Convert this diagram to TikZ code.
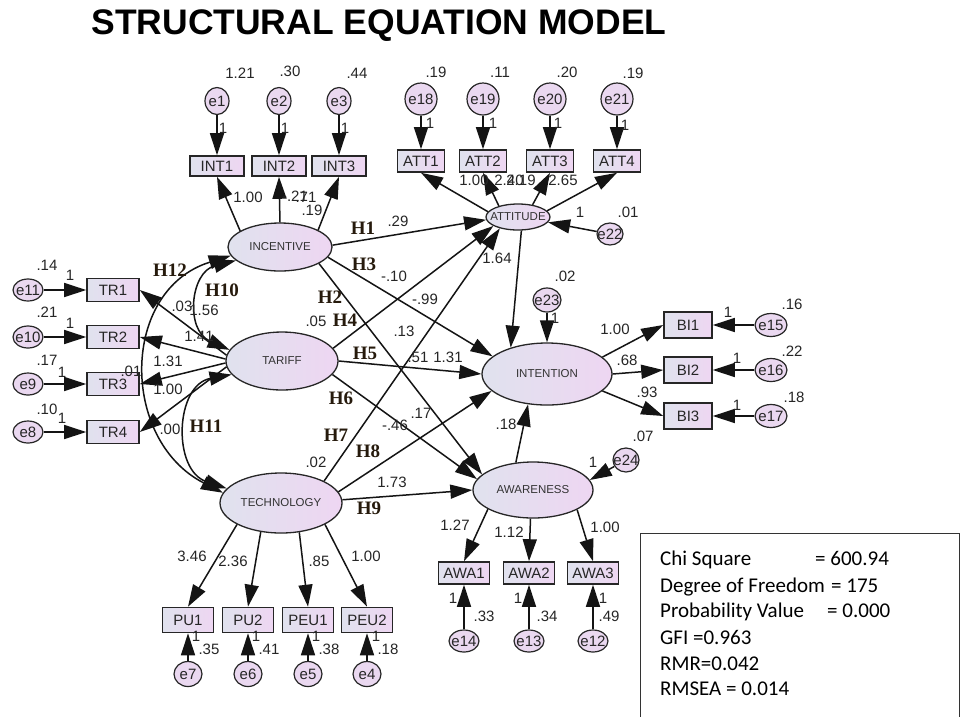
\documentclass[tikz,border=0pt]{standalone}
\usepackage{fontspec}
\setmainfont{Liberation Sans}
\newfontfamily\hypfont{Liberation Serif}
\newfontfamily\boxfont{Carlito}
\usetikzlibrary{arrows.meta,shapes.geometric}

\definecolor{latL}{RGB}{224,226,238}
\definecolor{latR}{RGB}{238,214,242}
\definecolor{errC}{RGB}{234,216,240}
\definecolor{hypC}{RGB}{38,26,12}
\definecolor{lineC}{RGB}{20,20,20}

\newcommand\zw[1]{\makebox[0pt]{#1}}

\tikzset{
  lat/.style 2 args={ellipse, draw=black!85, line width=1.3pt, left color=latL, right color=latR,
    minimum width=#1, minimum height=#2, inner sep=0pt, font=\fontsize{11.5}{12}\selectfont, text=black!80},
  obs/.style 2 args={rectangle, draw=black!85, line width=1.6pt, left color=latL, right color=latR,
    minimum width=#1, minimum height=#2, inner sep=0pt, font=\fontsize{15}{16}\selectfont, text=black!85},
  err/.style 2 args={ellipse, draw=black!85, line width=1.2pt, fill=errC,
    minimum width=#1, minimum height=#2, inner sep=0pt, font=\fontsize{15}{15}\selectfont, text=black!85},
  num/.style={inner sep=0pt, font=\fontsize{15}{15}\selectfont, text=black!85},
  hyp/.style={inner sep=0pt, font=\hypfont\bfseries\fontsize{19}{19}\selectfont, text=hypC},
  fitt/.style={inner sep=0pt, anchor=base west, font=\boxfont\fontsize{21}{22}\selectfont, text=black},
  arr/.style={draw=lineC, -{Triangle[length=22pt,width=14pt]}, line width=1.5pt},
  cov/.style={draw=lineC, {Triangle[length=22pt,width=14pt]}-{Triangle[length=22pt,width=14pt]}, line width=1.5pt},
}

\begin{document}
\begin{tikzpicture}[x=1pt,y=-1pt]
\useasboundingbox (0,0) rectangle (961,716);
\fill[white] (0,0) rectangle (961,716);

% title
\node[anchor=base, inner sep=0pt, font=\bfseries\fontsize{35.5}{38}\selectfont] (title) at (379,34) {STRUCTURAL EQUATION MODEL};

% latent variables
\node[lat={104}{48}] (INC) at (280,247) {INCENTIVE};
\node[lat={112}{58}] (TAR) at (282,361) {TARIFF};
\node[lat={122}{60}] (TEC) at (281,503) {TECHNOLOGY};
\node[lat={64}{26}] (ATT) at (518,217) {\zw{ATTITUDE}};
\node[lat={130}{62}] (INTN) at (547,374) {INTENTION};
\node[lat={120}{56}] (AWR) at (533,490) {AWARENESS};

% observed
\node[obs={54}{20}] (INT1) at (217,166) {INT1};
\node[obs={54}{20}] (INT2) at (279,166) {INT2};
\node[obs={54}{20}] (INT3) at (339,166) {INT3};
\node[obs={47}{22}] (ATT1) at (421,161) {ATT1};
\node[obs={47}{22}] (ATT2) at (483,161) {ATT2};
\node[obs={47}{22}] (ATT3) at (550,161) {ATT3};
\node[obs={47}{22}] (ATT4) at (617,161) {ATT4};
\node[obs={48}{26}] (BI1) at (688,325) {BI1};
\node[obs={48}{26}] (BI2) at (688,370) {BI2};
\node[obs={48}{26}] (BI3) at (688,416) {BI3};
\node[obs={52}{23}] (TR1) at (113,290) {TR1};
\node[obs={52}{23}] (TR2) at (113,337) {TR2};
\node[obs={52}{23}] (TR3) at (113,384) {TR3};
\node[obs={52}{23}] (TR4) at (113,432) {TR4};
\node[obs={51}{22}] (AWA1) at (464,573) {AWA1};
\node[obs={51}{22}] (AWA2) at (529,573) {AWA2};
\node[obs={51}{22}] (AWA3) at (593,573) {AWA3};
\node[obs={51}{25}] (PU1) at (188,620) {PU1};
\node[obs={51}{25}] (PU2) at (248,620) {PU2};
\node[obs={51}{25}] (PEU1) at (308,620) {PEU1};
\node[obs={51}{25}] (PEU2) at (367,620) {PEU2};

% errors
\node[err={24}{27}] (e1) at (217,101) {\zw{e1}};
\node[err={24}{27}] (e2) at (279,101) {\zw{e2}};
\node[err={24}{27}] (e3) at (339,101) {\zw{e3}};
\node[err={32}{32}] (e18) at (421,99) {\zw{e18}};
\node[err={32}{32}] (e19) at (483,99) {\zw{e19}};
\node[err={32}{32}] (e20) at (550,99) {\zw{e20}};
\node[err={32}{32}] (e21) at (617,99) {\zw{e21}};
\node[err={26}{22}] (e22) at (610,234) {\zw{e22}};
\node[err={28}{24}] (e23) at (547,300) {\zw{e23}};
\node[err={26}{24}] (e24) at (626,460) {\zw{e24}};
\node[err={32}{23}] (e15) at (771,325) {\zw{e15}};
\node[err={32}{23}] (e16) at (771,370) {\zw{e16}};
\node[err={32}{23}] (e17) at (771,416) {\zw{e17}};
\node[err={30}{22}] (e11) at (28,290) {\zw{e11}};
\node[err={30}{22}] (e10) at (28,337) {\zw{e10}};
\node[err={30}{22}] (e9) at (28,384) {\zw{e9}};
\node[err={30}{22}] (e8) at (28,432) {\zw{e8}};
\node[err={30}{22}] (e14) at (464,641) {\zw{e14}};
\node[err={30}{22}] (e13) at (529,641) {\zw{e13}};
\node[err={30}{22}] (e12) at (593,641) {\zw{e12}};
\node[err={28}{25}] (e7) at (188,674) {\zw{e7}};
\node[err={28}{25}] (e6) at (248,674) {\zw{e6}};
\node[err={28}{25}] (e5) at (308,674) {\zw{e5}};
\node[err={28}{25}] (e4) at (367,674) {\zw{e4}};

% error arrows
\foreach \a/\b in {e1/INT1,e2/INT2,e3/INT3,e18/ATT1,e19/ATT2,e20/ATT3,e21/ATT4,
  e15/BI1,e16/BI2,e17/BI3,e11/TR1,e10/TR2,e9/TR3,e8/TR4,e14/AWA1,e13/AWA2,e12/AWA3,
  e7/PU1,e6/PU2,e5/PEU1,e4/PEU2,e23/INTN}
  \draw[arr] (\a) -- (\b);
\draw[arr] (e22) -- (ATT.350);
\draw[arr] (e24) -- (AWR.10);

% measurement paths
\draw[arr] (INC.158) -- (INT1.south);
\draw[arr] (INC.90) -- (INT2.south);
\draw[arr] (INC.24) -- (INT3.south);
\draw[arr] (ATT.170) -- (ATT1.south);
\draw[arr] (ATT.150) -- (ATT2.south);
\draw[arr] (ATT.40) -- (ATT3.south);
\draw[arr] (ATT.12) -- (ATT4.south);
\draw[arr] (INTN.17) -- (BI1.west);
\draw[arr] (INTN.0) -- (BI2.west);
\draw[arr] (INTN.343) -- (BI3.west);
\draw[arr] (AWR.203) -- (AWA1.north);
\draw[arr] (AWR.265) -- (AWA2.north);
\draw[arr] (AWR.336) -- (AWA3.north);
\draw[arr] (TEC.206) -- (PU1.north);
\draw[arr] (TEC.235) -- (PU2.north);
\draw[arr] (TEC.302) -- (PEU1.north);
\draw[arr] (TEC.334) -- (PEU2.north);
\draw[arr] (TAR.174) -- (TR1.east);
\draw[arr] (TAR.178) -- (TR2.east);
\draw[arr] (TAR.182) -- (TR3.east);
\draw[arr] (TAR.186) -- (TR4.east);

% structural paths
\draw[arr] (INC.2) -- (ATT.185);
\draw[arr] (INC.348) -- (INTN.162);
\draw[arr] (INC.337) -- (AWR.163);
\draw[arr] (TAR.14) -- (ATT.200);
\draw[arr] (TAR.0) -- (INTN.180);
\draw[arr] (TAR.345) -- (AWR.169);
\draw[arr] (TEC.27) -- (ATT.212);
\draw[arr] (TEC.11) -- (INTN.197);
\draw[arr] (TEC.3) -- (AWR.180);
\draw[arr] (ATT.284) -- (INTN.144);
\draw[arr] (AWR.122) -- (INTN.238);

% covariances
\draw[cov] (INC.190) .. controls (120,290) and (120,440) .. (TEC.170);
\draw[cov] (INC.197) .. controls (190,272) and (185,330) .. (TAR.168);
\draw[cov] (TAR.195) .. controls (175,385) and (172,470) .. (TEC.165);

% variances
\node[num] (v1) at (240,73) {1.21};
\node[num] (v2) at (290,71) {.30};
\node[num] (v3) at (357,73) {.44};
\node[num] (v18) at (436,72) {.19};
\node[num] (v19) at (500,72) {.11};
\node[num] (v20) at (567,72) {.20};
\node[num] (v21) at (633,73) {.19};
\node[num] (v22) at (628,212) {.01};
\node[num] (v23) at (565,276) {.02};
\node[num] (v24) at (643,436) {.07};
\node[num] (v15) at (792,304) {.16};
\node[num] (v16) at (792,351) {.22};
\node[num] (v17) at (794,397) {.18};
\node[num] (v11) at (47,265) {.14};
\node[num] (v10) at (47,312) {.21};
\node[num] (v9) at (47,360) {.17};
\node[num] (v8) at (47,409) {.10};
\node[num] (v14) at (484,616) {.33};
\node[num] (v13) at (547,616) {.34};
\node[num] (v12) at (609,616) {.49};
\node[num] (v7) at (209,649) {.35};
\node[num] (v6) at (269,649) {.41};
\node[num] (v5) at (329,649) {.38};
\node[num] (v4) at (388,649) {.18};

% fixed 1 labels
\node[num] (o1) at (223,128) {1};
\node[num] (o2) at (285,128) {1};
\node[num] (o3) at (345,128) {1};
\node[num] (o18) at (430,123) {1};
\node[num] (o19) at (493,123) {1};
\node[num] (o20) at (558,123) {1};
\node[num] (o21) at (625,125) {1};
\node[num] (o22) at (580,212) {1};
\node[num] (o23) at (555,318) {1};
\node[num] (o24) at (593,462) {1};
\node[num] (o15) at (728,312) {1};
\node[num] (o16) at (737,358) {1};
\node[num] (o17) at (737,405) {1};
\node[num] (o11) at (70,275) {1};
\node[num] (o10) at (70,323) {1};
\node[num] (o9) at (62,372) {1};
\node[num] (o8) at (62,418) {1};
\node[num] (o14) at (453,598) {1};
\node[num] (o13) at (518,598) {1};
\node[num] (o12) at (603,598) {1};
\node[num] (o7) at (196,636) {1};
\node[num] (o6) at (256,636) {1};
\node[num] (o5) at (316,636) {1};
\node[num] (o4) at (376,636) {1};

% loadings
\node[num] (l1) at (248,197) {1.00};
\node[num] (l2) at (295,196) {-.21};
\node[num] (l3) at (306,197) {.71};
\node[num] (l4) at (312,210) {.19};
\node[num] (l5) at (474,180) {1.00};
\node[num] (l6) at (509,180) {2.40};
\node[num] (l7) at (521,180) {2.19};
\node[num] (l8) at (563,180) {2.65};
\node[num] (l9) at (615,329) {1.00};
\node[num] (l10) at (627,360) {.68};
\node[num] (l11) at (647,392) {.93};
\node[num] (l12) at (455,525) {1.27};
\node[num] (l13) at (509,532) {1.12};
\node[num] (l14) at (605,527) {1.00};
\node[num] (l15) at (192,556) {3.46};
\node[num] (l16) at (233,561) {2.36};
\node[num] (l17) at (319,561) {.85};
\node[num] (l18) at (366,556) {1.00};
\node[num] (l19) at (182,306) {.03};
\node[num] (l20) at (204,310) {1.56};
\node[num] (l21) at (199,336) {1.41};
\node[num] (l22) at (168,361) {1.31};
\node[num] (l23) at (131,371) {.01};
\node[num] (l24) at (168,389) {1.00};
\node[num] (l25) at (170,429) {.00};

% structural coefficients
\node[num] (s1) at (398,221) {.29};
\node[num] (s2) at (394,276) {-.10};
\node[num] (s3) at (425,299) {-.99};
\node[num] (s4) at (497,258) {1.64};
\node[num] (s5) at (316,321) {.05};
\node[num] (s6) at (404,331) {.13};
\node[num] (s7) at (418,357) {.51};
\node[num] (s8) at (448,357) {1.31};
\node[num] (s9) at (395,425) {-.46};
\node[num] (s10) at (421,413) {.17};
\node[num] (s11) at (316,462) {.02};
\node[num] (s12) at (392,482) {1.73};
\node[num] (s13) at (506,424) {.18};

% hypotheses
\node[hyp] (H1) at (363,228) {H1};
\node[hyp] (H2) at (330,297) {H2};
\node[hyp] (H3) at (364,264) {H3};
\node[hyp] (H4) at (345,320) {H4};
\node[hyp] (H5) at (365,353) {H5};
\node[hyp] (H6) at (341,398) {H6};
\node[hyp] (H7) at (336,435) {H7};
\node[hyp] (H8) at (368,451) {H8};
\node[hyp] (H9) at (369,508) {H9};
\node[hyp] (H10) at (222,290) {H10};
\node[hyp] (H11) at (206,426) {H11};
\node[hyp] (H12) at (170,270) {H12};

% fit box
\draw[black!80, line width=1pt] (640,720) -- (640,533) -- (959,533) -- (959,720);
\node[fitt] (f1) at (660,565) {Chi Square};
\node[fitt] (f1v) at (815,565) {= 600.94};
\node[fitt] (f2) at (660,592) {Degree of Freedom};
\node[fitt] (f2v) at (831,592) {= 175};
\node[fitt] (f3) at (660,617) {Probability Value};
\node[fitt] (f3v) at (827,617) {= 0.000};
\node[fitt] (f4) at (660,644) {GFI =0.963};
\node[fitt] (f5) at (660,670) {RMR=0.042};
\node[fitt] (f6) at (660,695) {RMSEA = 0.014};
\end{tikzpicture}
\end{document}
